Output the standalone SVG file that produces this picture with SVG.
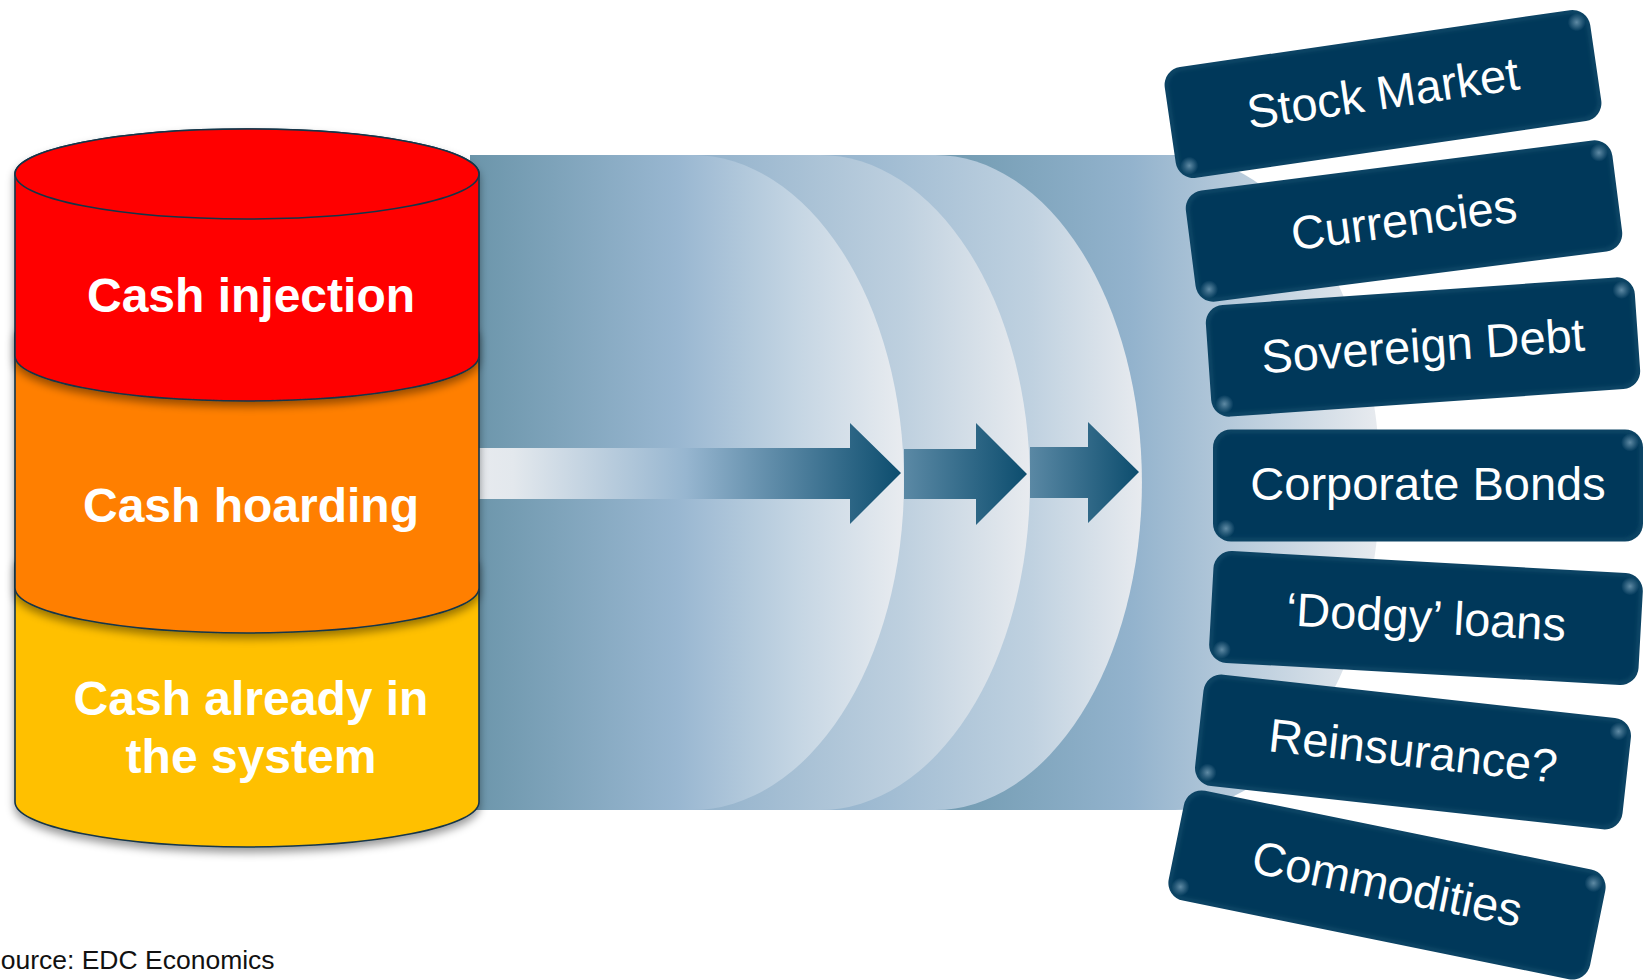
<svg xmlns="http://www.w3.org/2000/svg" width="1648" height="980" viewBox="0 0 1648 980">
  <defs>
    <style>
      .seg { stroke: #143549; stroke-width: 1.6; filter: url(#segShadow); }
      .seg-label { font-family: "Liberation Sans", Arial, sans-serif; font-weight: bold; font-size: 48px; fill: #ffffff; text-anchor: middle; }
      .box-rim { fill: #0c4464; }
      .box-core { fill: #04385a; filter: url(#soft); }
      .box-label { font-family: "Liberation Sans", Arial, sans-serif; font-size: 47px; fill: #ffffff; text-anchor: middle; }
      .glint { fill: url(#glint); }
      .source { font-family: "Liberation Sans", Arial, sans-serif; font-size: 26.5px; fill: #111111; }
    </style>
    <filter id="segShadow" x="-10%" y="-10%" width="120%" height="130%">
      <feDropShadow dx="0" dy="5" stdDeviation="4" flood-color="#000000" flood-opacity="0.4"/>
    </filter>
    <filter id="soft" x="-5%" y="-5%" width="110%" height="110%">
      <feGaussianBlur stdDeviation="1.6"/>
    </filter>
    <radialGradient id="glint">
      <stop offset="0" stop-color="#7fa6bd" stop-opacity="0.75"/>
      <stop offset="1" stop-color="#7fa6bd" stop-opacity="0"/>
    </radialGradient>
    <!-- flow band layers -->
    <linearGradient id="layer1" gradientUnits="userSpaceOnUse" x1="470" y1="0" x2="904" y2="0">
      <stop offset="0" stop-color="#6b95aa"/>
      <stop offset="0.48" stop-color="#99b7d1"/>
      <stop offset="0.75" stop-color="#c4d5e3"/>
      <stop offset="1" stop-color="#e9ecf0"/>
    </linearGradient>
    <linearGradient id="layer2" gradientUnits="userSpaceOnUse" x1="690" y1="0" x2="1030" y2="0">
      <stop offset="0" stop-color="#90b0ca"/>
      <stop offset="0.63" stop-color="#bed0df"/>
      <stop offset="1" stop-color="#e8ebef"/>
    </linearGradient>
    <linearGradient id="layer3" gradientUnits="userSpaceOnUse" x1="815" y1="0" x2="1142" y2="0">
      <stop offset="0" stop-color="#92b2cc"/>
      <stop offset="0.66" stop-color="#bfd1e0"/>
      <stop offset="1" stop-color="#e8ebef"/>
    </linearGradient>
    <linearGradient id="layer4" gradientUnits="userSpaceOnUse" x1="930" y1="0" x2="1380" y2="0">
      <stop offset="0" stop-color="#6f99af"/>
      <stop offset="0.45" stop-color="#93b3cd"/>
      <stop offset="1" stop-color="#e8ebef"/>
    </linearGradient>
    <!-- arrows -->
    <linearGradient id="arrow1" gradientUnits="userSpaceOnUse" x1="470" y1="0" x2="901" y2="0">
      <stop offset="0" stop-color="#e8ebef"/>
      <stop offset="0.1" stop-color="#e3e8ed"/>
      <stop offset="0.5" stop-color="#97b6d0"/>
      <stop offset="1" stop-color="#0c4d6e"/>
    </linearGradient>
    <linearGradient id="arrow2" gradientUnits="userSpaceOnUse" x1="904" y1="0" x2="1027" y2="0">
      <stop offset="0" stop-color="#5b89a5"/>
      <stop offset="1" stop-color="#0c4d6e"/>
    </linearGradient>
    <linearGradient id="arrow3" gradientUnits="userSpaceOnUse" x1="1030" y1="0" x2="1139" y2="0">
      <stop offset="0" stop-color="#5a88a4"/>
      <stop offset="1" stop-color="#0c4d6e"/>
    </linearGradient>
  </defs>

  <rect width="1648" height="980" fill="#ffffff"/>

  <!-- flow band: stacked half-discs, back to front -->
  <g id="flow-band">
    <path d="M930,155 H1175 A205,327.5 0 0 1 1175,810 H930 Z" fill="url(#layer4)"/>
    <path d="M815,155 H935 A207,327.5 0 0 1 935,810 H815 Z" fill="url(#layer3)"/>
    <path d="M690,155 H820 A210,327.5 0 0 1 820,810 H690 Z" fill="url(#layer2)"/>
    <path d="M470,155 H692 A212,327.5 0 0 1 692,810 H470 Z" fill="url(#layer1)"/>
  </g>

  <!-- connectors -->
  <g id="connectors">
    <polygon points="470,448 850,448 850,423 901,473 850,524 850,499 470,499" fill="url(#arrow1)"/>
    <polygon points="904,449 976,449 976,423 1027,474 976,525 976,499 904,499" fill="url(#arrow2)"/>
    <polygon points="1030,447 1088,447 1088,422 1139,472 1088,523 1088,498 1030,498" fill="url(#arrow3)"/>
  </g>

  <!-- cash cylinder, bottom segment first -->
  <g id="cash-existing">
    <path class="seg" d="M15,565 A232,45 0 0 1 479,565 V802 A232,45 0 0 1 15,802 Z" fill="#ffc000"/>
    <text class="seg-label" x="251" y="715">Cash already in</text>
    <text class="seg-label" x="251" y="773">the system</text>
  </g>
  <g id="cash-hoarding">
    <path class="seg" d="M15,335 A232,45 0 0 1 479,335 V588 A232,45 0 0 1 15,588 Z" fill="#ff7f00"/>
    <text class="seg-label" x="251" y="522">Cash hoarding</text>
  </g>
  <g id="cash-injection">
    <path class="seg" d="M15,174 A232,45 0 0 1 479,174 V356 A232,45 0 0 1 15,356 Z" fill="#ff0000"/>
    <ellipse cx="247" cy="174" rx="232" ry="45" fill="#ff0000" stroke="#143549" stroke-width="1.6"/>
    <text class="seg-label" x="251" y="312">Cash injection</text>
  </g>

  <!-- destination boxes -->
  <g id="stock-market" transform="translate(1383,94) rotate(-8.3)">
    <rect class="box-rim" x="-215" y="-56" width="430" height="112" rx="18"/>
    <rect class="box-core" x="-211" y="-52" width="422" height="104" rx="15"/>
    <circle class="glint" cx="202" cy="-43" r="9"/>
    <circle class="glint" cx="-202" cy="43" r="9"/>
    <text class="box-label" x="0" y="15">Stock Market</text>
  </g>
  <g id="currencies" transform="translate(1404,221) rotate(-7.3)">
    <rect class="box-rim" x="-215" y="-56" width="430" height="112" rx="18"/>
    <rect class="box-core" x="-211" y="-52" width="422" height="104" rx="15"/>
    <circle class="glint" cx="202" cy="-43" r="9"/>
    <circle class="glint" cx="-202" cy="43" r="9"/>
    <text class="box-label" x="0" y="15">Currencies</text>
  </g>
  <g id="sovereign-debt" transform="translate(1423,347) rotate(-4)">
    <rect class="box-rim" x="-215" y="-56" width="430" height="112" rx="18"/>
    <rect class="box-core" x="-211" y="-52" width="422" height="104" rx="15"/>
    <circle class="glint" cx="202" cy="-43" r="9"/>
    <circle class="glint" cx="-202" cy="43" r="9"/>
    <text class="box-label" x="0" y="15">Sovereign Debt</text>
  </g>
  <g id="corporate-bonds" transform="translate(1428,485.5)">
    <rect class="box-rim" x="-215" y="-56" width="430" height="112" rx="18"/>
    <rect class="box-core" x="-211" y="-52" width="422" height="104" rx="15"/>
    <circle class="glint" cx="202" cy="-43" r="9"/>
    <circle class="glint" cx="-202" cy="43" r="9"/>
    <text class="box-label" x="0" y="14">Corporate Bonds</text>
  </g>
  <g id="dodgy-loans" transform="translate(1426,618) rotate(3.2)">
    <rect class="box-rim" x="-215" y="-56" width="430" height="112" rx="18"/>
    <rect class="box-core" x="-211" y="-52" width="422" height="104" rx="15"/>
    <circle class="glint" cx="202" cy="-43" r="9"/>
    <circle class="glint" cx="-202" cy="43" r="9"/>
    <text class="box-label" x="0" y="15">‘Dodgy’ loans</text>
  </g>
  <g id="reinsurance" transform="translate(1413,752) rotate(6.3)">
    <rect class="box-rim" x="-215" y="-56" width="430" height="112" rx="18"/>
    <rect class="box-core" x="-211" y="-52" width="422" height="104" rx="15"/>
    <circle class="glint" cx="202" cy="-43" r="9"/>
    <circle class="glint" cx="-202" cy="43" r="9"/>
    <text class="box-label" x="0" y="15">Reinsurance?</text>
  </g>
  <g id="commodities" transform="translate(1387,885) rotate(11.5)">
    <rect class="box-rim" x="-215" y="-56" width="430" height="112" rx="18"/>
    <rect class="box-core" x="-211" y="-52" width="422" height="104" rx="15"/>
    <circle class="glint" cx="202" cy="-43" r="9"/>
    <circle class="glint" cx="-202" cy="43" r="9"/>
    <text class="box-label" x="0" y="15">Commodities</text>
  </g>

  <text class="source" x="-17" y="969">Source: EDC Economics</text>
</svg>
